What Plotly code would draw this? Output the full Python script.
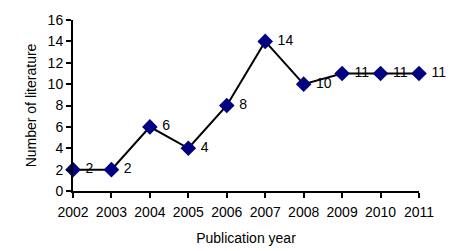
import plotly.graph_objects as go

years = [2002, 2003, 2004, 2005, 2006, 2007, 2008, 2009, 2010, 2011]
counts = [2, 2, 6, 4, 8, 14, 10, 11, 11, 11]
y_ticks = [0, 2, 4, 6, 8, 10, 12, 14, 16]

font = dict(family="Liberation Sans, Arial, sans-serif", size=14, color="#000000")

fig = go.Figure(go.Scatter(
    x=years, y=counts, mode="lines+markers+text",
    text=[" " + str(v) for v in counts], textposition="middle right",
    textfont=font,
    line=dict(color="#000000", width=2),
    marker=dict(symbol="diamond", size=12, color="#000080", line=dict(width=0)),
    cliponaxis=False,
))

fig.update_layout(
    width=463, height=251,
    margin=dict(l=73, r=44, t=20, b=60),
    paper_bgcolor="white", plot_bgcolor="white",
    showlegend=False,
    font=font,
    xaxis=dict(
        range=[2002, 2011], tickmode="array", tickvals=years,
        ticktext=[str(y) for y in years],
        showgrid=False, zeroline=False, automargin=False,
        showline=True, linecolor="#000000", linewidth=2,
        ticks="outside", ticklen=5, tickwidth=2, tickcolor="#000000",
        ticklabelstandoff=2,
        title=dict(text="Publication year", standoff=14, font=font),
    ),
    yaxis=dict(
        range=[0, 16], tickmode="array", tickvals=y_ticks,
        showgrid=False, zeroline=False, automargin=False,
        showline=True, linecolor="#000000", linewidth=2,
        ticks="outside", ticklen=5, tickwidth=2, tickcolor="#000000",
        title=dict(text="Number of literature", standoff=8, font=font),
    ),
)

fig.write_html("out.html", config={"displayModeBar": False},
               post_script="document.body.style.margin='0';")
